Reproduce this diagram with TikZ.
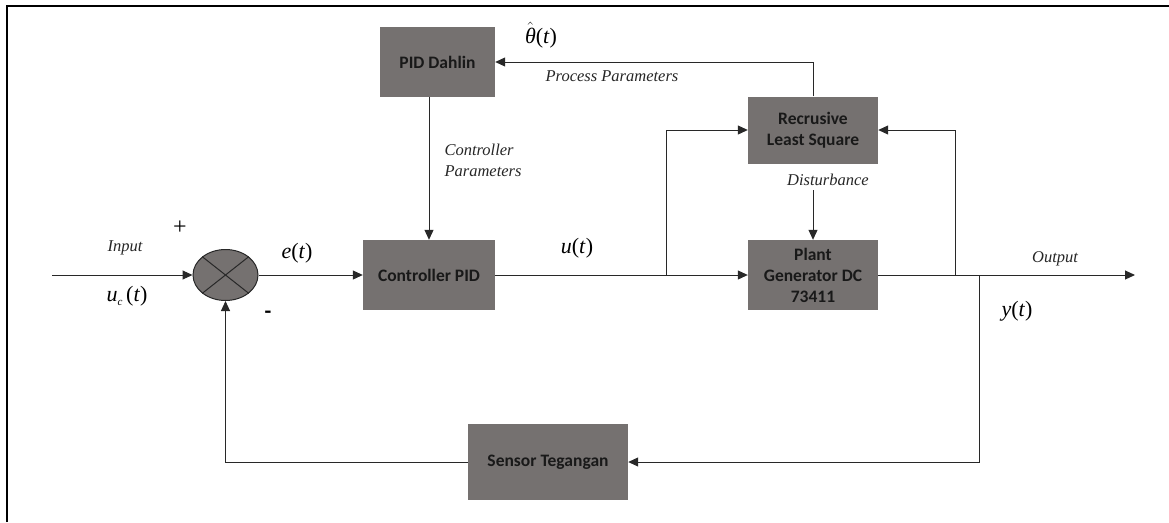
\documentclass[tikz,border=0pt]{standalone}
\usepackage{fontspec}
\setmainfont{Liberation Serif}
\newfontfamily\boxfont{Carlito}
\usetikzlibrary{arrows.meta,shapes.geometric}
\definecolor{boxgray}{RGB}{117,113,112}
\definecolor{linecol}{RGB}{40,40,40}
\tikzset{
  blockbox/.style={rectangle, fill=boxgray, draw=none, align=center,
    font=\boxfont\bfseries\fontsize{17.5}{21}\selectfont, text=black!90},
  conn/.style={draw=linecol, line width=1pt},
  arr/.style={conn, -{Triangle[length=10pt,width=9pt]}},
  itlab/.style={font=\itshape\fontsize{16.5}{21}\selectfont, text=black!85},
  mathlab/.style={font=\fontsize{22}{24}\selectfont},
}
\begin{document}
\begin{tikzpicture}[x=1pt,y=-1pt]
\useasboundingbox (0,0) rectangle (1169,522);
\draw[line width=2.2pt] (7,522) -- (7,6) -- (1169,6);

% blocks
\node[blockbox, minimum width=115pt, minimum height=70pt] (dahlin) at (437.5,62) {PID Dahlin};
\node[blockbox, minimum width=132pt, minimum height=70pt] (ctrl) at (429,275) {Controller PID};
\node[blockbox, minimum width=130pt, minimum height=67pt] (rls) at (813,130) {Recrusive\\Least Square};
\node[blockbox, minimum width=130pt, minimum height=70pt] (plant) at (813,275) {Plant\\Generator DC\\73411};
\node[blockbox, minimum width=160pt, minimum height=76pt] (sensor) at (548,462) {Sensor Tegangan};
\node[ellipse, fill=boxgray, draw=linecol, line width=1pt, minimum width=65pt, minimum height=51pt, inner sep=0pt] (sum) at (225.5,275) {};
\draw[conn] (sum.north east) -- (sum.south west);
\draw[conn] (sum.north west) -- (sum.south east);

% coordinates
\coordinate (in) at (52,275);
\coordinate (j1) at (666,275);
\coordinate (j2) at (955,275);
\coordinate (j3) at (979,275);
\coordinate (out) at (1135,275);
\coordinate (dist) at (813,190);

% connectors
\draw[arr] (in) -- (sum.west);
\draw[arr] (sum.east) -- (ctrl.west);
\draw[arr] (ctrl.east) -- (plant.west);
\draw[arr] (j1) |- (rls.west);
\draw[arr] (rls.north) |- (dahlin.east);
\draw[arr] (ctrl.north |- dahlin.south) -- (ctrl.north);
\draw[arr] (dist) -- (plant.north);
\draw[arr] (plant.east) -- (out);
\draw[arr] (j2) |- (rls.east);
\draw[arr] (j3) |- (sensor.east);
\draw[arr] (sensor.west) -| (sum.south);

% labels
\node[mathlab] (theta) at (541,35) {$\hat{\mbox{\itshape θ}}$(\textit{t})};
\node[itlab] (pp) at (612,76) {Process Parameters};
\node[itlab, align=left, anchor=west] (cp) at (441,160) {Controller\\Parameters};
\node[itlab] (inlab) at (125,248) {Input};
\node[mathlab] (uc) at (127,296) {\textit{u}\raisebox{-4pt}{\fontsize{11}{12}\selectfont\textit{c}}\,(\textit{t})};
\node[font=\fontsize{24}{24}\selectfont] (plus) at (180,228) {+};
\node[font=\boxfont\bfseries\fontsize{22}{22}\selectfont] (minus) at (268,315) {-};
\node[mathlab] (et) at (297,253) {\textit{e}(\textit{t})};
\node[mathlab] (ut) at (577,248) {\textit{u}(\textit{t})};
\node[itlab] (dlab) at (828,180) {Disturbance};
\node[itlab] (olab) at (1055,259) {Output};
\node[mathlab] (yt) at (1017,311) {\textit{y}(\textit{t})};
\end{tikzpicture}
\end{document}
